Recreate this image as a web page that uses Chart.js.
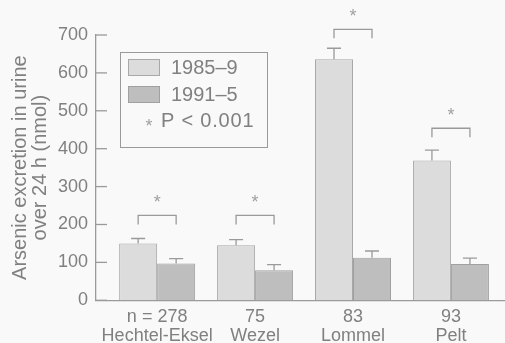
<!DOCTYPE html>
<html>
<head>
<meta charset="utf-8">
<script src="https://cdn.jsdelivr.net/npm/chart.js@4"></script>
<style>
    html, body { margin: 0; padding: 0; background: #f9f9f9; }
    #wrap { width: 505px; height: 343px; }
</style>
</head>
<body>
<div id="wrap"><canvas id="arsenicChart" width="505" height="343"></canvas></div>
<script>
const sites = ["Hechtel-Eksel", "Wezel", "Lommel", "Pelt"];
const sampleSizes = ["n = 278", "75", "83", "93"];
const mean1985 = [150, 145, 636, 369];
const err1985 = [13, 15, 29, 27];
const mean1991 = [97, 79, 112, 96];
const err1991 = [13, 15, 18, 15];
const bracketLevel = [224, 224, 715, 454];
const yTickValues = [0, 100, 200, 300, 400, 500, 600, 700];

const textColor = "#808080";
const lineColor = "#9a9a9a";
const fontFamily = "'Liberation Sans', Arial, sans-serif";

const background = {
    id: "background",
    beforeDraw(chart) {
        const c = chart.ctx;
        c.save();
        c.fillStyle = "#f9f9f9";
        c.fillRect(0, 0, chart.width, chart.height);
        c.restore();
    }
};

// error bars, inside y ticks, significance brackets and the boxed legend
const extras = {
    id: "extras",
    afterDatasetsDraw(chart) {
        const c = chart.ctx;
        const y = chart.scales.y;
        const errs = [err1985, err1991];
        c.save();
        c.strokeStyle = lineColor;
        c.lineWidth = 1.3;

        chart.data.datasets.forEach(function (ds, d) {
            chart.getDatasetMeta(d).data.forEach(function (bar, i) {
                const top = y.getPixelForValue(ds.data[i].y + errs[d][i]);
                c.beginPath();
                c.moveTo(bar.x, bar.y);
                c.lineTo(bar.x, top);
                c.moveTo(bar.x - 7, top);
                c.lineTo(bar.x + 7, top);
                c.stroke();
            });
        });

        // ticks drawn inside the axis
        yTickValues.forEach(function (v) {
            const py = y.getPixelForValue(v);
            c.beginPath();
            c.moveTo(chart.chartArea.left, py);
            c.lineTo(chart.chartArea.left + 11, py);
            c.stroke();
        });

        const m0 = chart.getDatasetMeta(0).data;
        const m1 = chart.getDatasetMeta(1).data;
        c.fillStyle = "#a0a0a0";
        c.font = "18px " + fontFamily;
        c.textAlign = "center";
        c.textBaseline = "middle";
        bracketLevel.forEach(function (v, i) {
            const py = y.getPixelForValue(v);
            c.beginPath();
            c.moveTo(m0[i].x, py + 9);
            c.lineTo(m0[i].x, py);
            c.lineTo(m1[i].x, py);
            c.lineTo(m1[i].x, py + 9);
            c.stroke();
            c.fillText("*", (m0[i].x + m1[i].x) / 2, py - 12);
        });

        // legend box
        c.strokeStyle = lineColor;
        c.lineWidth = 1;
        c.strokeRect(120.5, 52.5, 147, 95);
        chart.data.datasets.forEach(function (ds, d) {
            const sy = 59 + d * 27;
            c.fillStyle = ds.backgroundColor;
            c.fillRect(128, sy, 32, 17);
            c.strokeStyle = ds.borderColor;
            c.strokeRect(128.5, sy + 0.5, 31, 16);
            c.fillStyle = textColor;
            c.font = "20px " + fontFamily;
            c.textAlign = "left";
            c.fillText(ds.label, 171, sy + 9);
        });
        c.fillStyle = "#a0a0a0";
        c.font = "18px " + fontFamily;
        c.textAlign = "center";
        c.fillText("*", 149, 127);
        c.fillStyle = textColor;
        c.font = "20px " + fontFamily;
        c.textAlign = "left";
        c.letterSpacing = "0.8px";
        c.fillText("P < 0.001", 161, 121);
        c.restore();
    }
};

const ctx = document.getElementById("arsenicChart").getContext("2d");

new Chart(ctx, {
    type: "bar",
    data: {
        datasets: [
            {
                label: "1985\u20139",
                data: mean1985.map(function (v, i) { return { x: i, y: v }; }),
                backgroundColor: "#dcdcdc",
                borderColor: "#a8a8a8",
                borderWidth: 1
            },
            {
                label: "1991\u20135",
                data: mean1991.map(function (v, i) { return { x: i, y: v }; }),
                backgroundColor: "#bebebe",
                borderColor: "#a0a0a0",
                borderWidth: 1
            }
        ]
    },
    options: {
        responsive: false,
        animation: false,
        layout: { padding: { left: 10, top: 35, right: 0, bottom: -10 } },
        datasets: {
            bar: { categoryPercentage: 0.776, barPercentage: 1 }
        },
        plugins: {
            legend: { display: false },
            tooltip: { enabled: false }
        },
        scales: {
            x: {
                type: "linear",
                min: -0.624,
                max: 3.552,
                offset: false,
                afterBuildTicks(scale) {
                    scale.ticks = sites.map(function (s, i) { return { value: i }; });
                },
                grid: { display: false, drawTicks: false, tickLength: 0, offset: false },
                border: { color: lineColor, width: 1.3 },
                ticks: {
                    color: textColor,
                    padding: 8,
                    maxRotation: 0,
                    autoSkip: false,
                    font: { family: fontFamily, size: 18, lineHeight: 1.02 },
                    callback: function (value) {
                        return [sampleSizes[value], sites[value]];
                    }
                }
            },
            y: {
                min: 0,
                max: 700,
                afterBuildTicks(scale) {
                    scale.ticks = yTickValues.map(function (v) { return { value: v }; });
                },
                grid: { display: false, drawTicks: false, tickLength: 0 },
                border: { color: lineColor, width: 1.3 },
                ticks: {
                    color: textColor,
                    padding: 8,
                    font: { family: fontFamily, size: 18 }
                },
                title: {
                    display: true,
                    text: ["Arsenic excretion in urine", "over 24 h (nmol)"],
                    color: textColor,
                    padding: { top: 0, bottom: 0 },
                    font: { family: fontFamily, size: 20, lineHeight: 1 }
                }
            }
        }
    },
    plugins: [background, extras]
});
</script>
</body>
</html>
